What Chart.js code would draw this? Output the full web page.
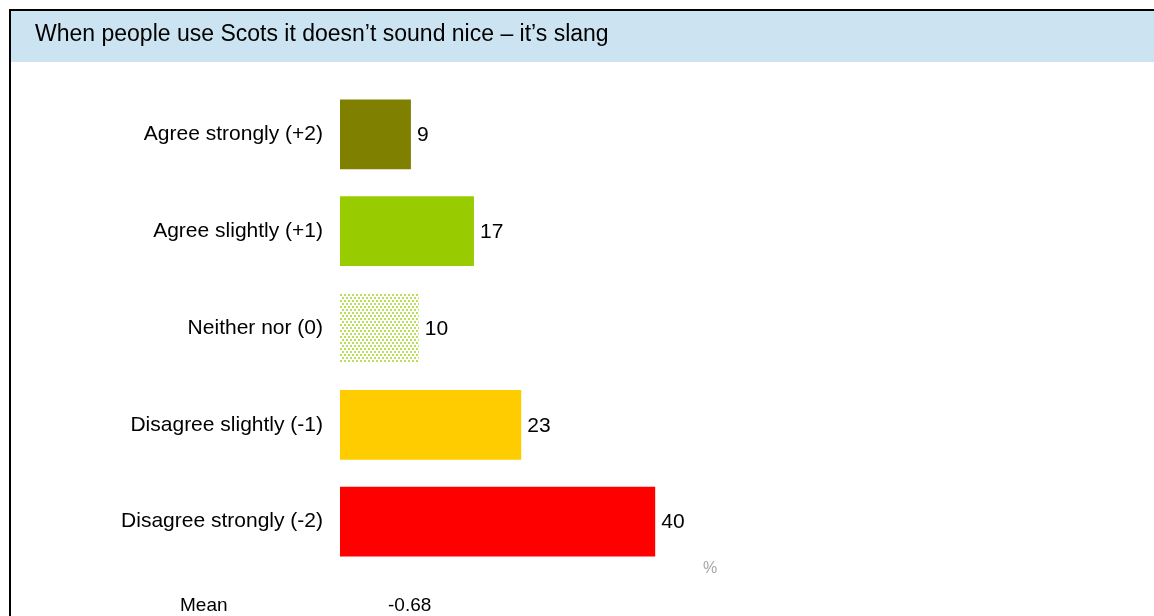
<!DOCTYPE html>
<html>
<head>
<meta charset="utf-8">
<script src="https://cdn.jsdelivr.net/npm/chart.js@4/dist/chart.umd.min.js"></script>
<style>
  html, body { margin: 0; padding: 0; background: #fff; }
  #wrap { width: 1154px; height: 616px; }
</style>
</head>
<body>
<div id="wrap"><canvas id="scotsChart" width="1154" height="616"></canvas></div>
<script>
const chartTitle = 'When people use Scots it doesn\u2019t sound nice \u2013 it\u2019s slang';
const categories = ['Agree strongly (+2)', 'Agree slightly (+1)', 'Neither nor (0)', 'Disagree slightly (-1)', 'Disagree strongly (-2)'];
const percents = [9, 17, 10, 23, 40];
const meanLabel = 'Mean';
const meanValue = '-0.68';
const unitLabel = '%';

const FONT = '"Liberation Sans", Arial, sans-serif';

// dotted fill for the neutral bar
function dotPattern() {
    const c = document.createElement('canvas');
    c.width = 4; c.height = 6;
    const g = c.getContext('2d');
    g.fillStyle = '#ffffff';
    g.fillRect(0, 0, 4, 6);
    g.fillStyle = '#b8de5a';
    g.fillRect(0, 0, 2, 2);
    g.fillRect(2, 3, 2, 2);
    return g.createPattern(c, 'repeat');
}

const ctx = document.getElementById('scotsChart').getContext('2d');
const barColors = ['#808000', '#99cc00', dotPattern(), '#ffcc00', '#ff0000'];

// frame, title band and the extra texts
const decorations = {
    id: 'decorations',
    beforeDraw(chart) {
        const c = chart.ctx;
        c.save();
        c.fillStyle = '#ffffff';
        c.fillRect(0, 0, chart.width, chart.height);
        c.fillStyle = '#cce4f2';
        c.fillRect(11, 11, chart.width - 11, 51);
        c.strokeStyle = '#000000';
        c.lineWidth = 2;
        c.beginPath();
        c.moveTo(10, chart.height);
        c.lineTo(10, 10);
        c.lineTo(chart.width, 10);
        c.stroke();
        c.fillStyle = '#000000';
        c.font = '23px ' + FONT;
        c.textBaseline = 'middle';
        c.textAlign = 'left';
        c.fillText(chartTitle, 35, 35);
        c.restore();
    },
    afterDatasetsDraw(chart) {
        const c = chart.ctx;
        const meta = chart.getDatasetMeta(0);
        c.save();
        c.fillStyle = '#000000';
        c.font = '21px ' + FONT;
        c.textBaseline = 'middle';
        c.textAlign = 'left';
        meta.data.forEach((bar, i) => {
            c.fillText(String(percents[i]), bar.x + 6, bar.y + 1);
        });
        c.font = '19px ' + FONT;
        c.fillText(meanLabel, 180, 606);
        c.fillText(meanValue, 388, 606);
        c.fillStyle = '#a6a6a6';
        c.font = '16px ' + FONT;
        c.fillText(unitLabel, 703, 569);
        c.restore();
    }
};

new Chart(ctx, {
    type: 'bar',
    data: {
        labels: categories,
        datasets: [{
            data: percents,
            backgroundColor: barColors,
            borderWidth: 0,
            barPercentage: 0.72,
            categoryPercentage: 1
        }]
    },
    options: {
        indexAxis: 'y',
        responsive: false,
        animation: false,
        layout: { padding: { top: 86, bottom: 46, left: 0, right: 26 } },
        scales: {
            x: { display: false, min: 0, max: 100 },
            y: {
                afterFit(scale) { scale.width = 340; },
                grid: { display: false, drawTicks: false },
                border: { display: false },
                ticks: {
                    padding: 17,
                    color: '#000000',
                    font: { family: FONT, size: 21 }
                }
            }
        },
        plugins: {
            legend: { display: false },
            tooltip: { enabled: false }
        }
    },
    plugins: [decorations]
});
</script>
</body>
</html>
